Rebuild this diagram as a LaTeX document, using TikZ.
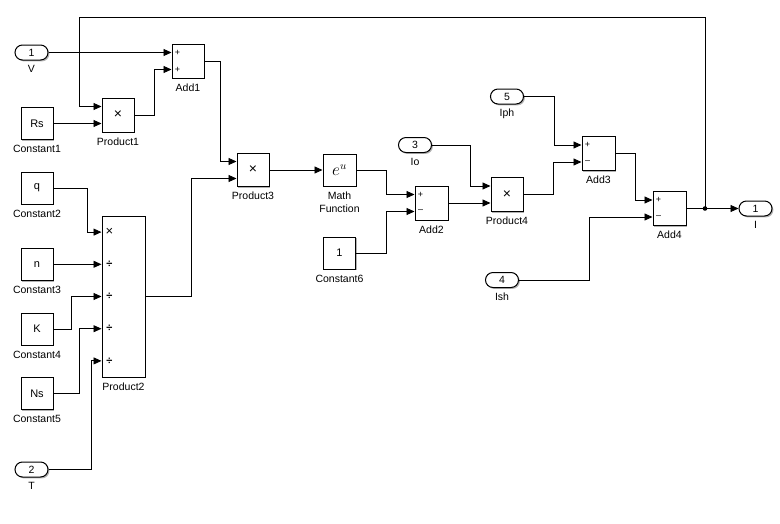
\documentclass[tikz,border=0pt]{standalone}
\usepackage{fontspec}
\setmainfont{Liberation Sans}
\usetikzlibrary{arrows.meta,calc,shadows}
\begin{document}
\begin{tikzpicture}[x=1pt,y=-1pt,
  shad/.style={drop shadow={shadow xshift=1.4pt,shadow yshift=-1.4pt,opacity=0.3,fill=black}},
  blk/.style={draw,line width=1pt,fill=white,minimum width=32pt,minimum height=34pt,inner sep=0pt,font=\fontsize{11}{12}\selectfont,shad},
  cst/.style={blk,minimum height=32pt},
  port/.style={draw,line width=1pt,fill=white,rounded corners=7.5pt,minimum width=33pt,minimum height=15pt,inner sep=0pt,font=\fontsize{10.5}{12}\selectfont,shad},
  lbl/.style={font=\fontsize{10.5}{12}\selectfont,inner sep=0pt,anchor=base},
  sgn/.style={font=\fontsize{9}{10}\selectfont,inner sep=0pt},
  mul/.style={font=\fontsize{14}{14}\selectfont},
  arr/.style={-{Triangle[length=8pt,width=7pt]},line width=0.9pt},
  ln/.style={line width=0.9pt}
]
\useasboundingbox (0,0) rectangle (780,523);

% ---------- blocks ----------
\node[port] (V) at (31.5,52.5) {1};
\node[lbl] (Vl) at ($(V.south)+(0,12)$) {V};
\node[port] (T) at (31.5,469.5) {2};
\node[lbl] (Tl) at ($(T.south)+(0,12)$) {T};
\node[port] (Io) at (415,145) {3};
\node[lbl] (Iol) at ($(Io.south)+(0,12)$) {Io};
\node[port] (Iph) at (507,96.5) {5};
\node[lbl] (Iphl) at ($(Iph.south)+(0,12)$) {Iph};
\node[port] (Ish) at (502,280) {4};
\node[lbl] (Ishl) at ($(Ish.south)+(0,12)$) {Ish};
\node[port] (Out) at (755.5,208.5) {1};
\node[lbl] (Outl) at ($(Out.south)+(0,12)$) {I};

\node[cst] (Rs) at (37,123.5) {Rs};
\node[lbl] (C1l) at ($(Rs.south)+(0,12.5)$) {Constant1};
\node[cst] (q) at (37,188) {q};
\node[lbl] (C2l) at ($(q.south)+(0,12.5)$) {Constant2};
\node[cst] (n) at (37,264.3) {n};
\node[lbl] (C3l) at ($(n.south)+(0,12.5)$) {Constant3};
\node[cst] (K) at (37,329) {K};
\node[lbl] (C4l) at ($(K.south)+(0,12.5)$) {Constant4};
\node[cst] (Ns) at (37,393.5) {Ns};
\node[lbl] (C5l) at ($(Ns.south)+(0,12.5)$) {Constant5};
\node[cst] (C6) at (339.5,253) {1};
\node[lbl] (C6l) at ($(C6.south)+(0,12.5)$) {Constant6};

\node[blk] (Add1) at (188,61) {};
\node[lbl] (A1l) at ($(Add1.south)+(0,12.5)$) {Add1};
\node[blk,mul] (P1) at (118,115) {×};
\node[lbl] (P1l) at ($(P1.south)+(0,12.5)$) {Product1};
\node[blk,minimum height=161pt,minimum width=43pt] (P2) at (123.5,296.5) {};
\node[lbl] (P2l) at ($(P2.south)+(0,12.5)$) {Product2};
\node[blk,mul,minimum height=33pt] (P3) at (253,170) {×};
\node[lbl] (P3l) at ($(P3.south)+(0,12.5)$) {Product3};
\node[cst,minimum width=33pt,font=\fontsize{16}{18}\selectfont] (MF) at (339.5,170) {$e^{u}$};
\node[lbl] (MFl1) at ($(MF.south)+(0,13)$) {Math};
\node[lbl] (MFl2) at ($(MF.south)+(0,26)$) {Function};
\node[blk,minimum width=33pt] (Add2) at (431.5,203) {};
\node[lbl] (A2l) at ($(Add2.south)+(0,12.5)$) {Add2};
\node[blk,mul] (P4) at (507,194.5) {×};
\node[lbl] (P4l) at ($(P4.south)+(0,12.5)$) {Product4};
\node[blk,minimum width=33pt] (Add3) at (598.5,153.5) {};
\node[lbl] (A3l) at ($(Add3.south)+(0,12.5)$) {Add3};
\node[blk,minimum width=33pt] (Add4) at (669.5,208.5) {};
\node[lbl] (A4l) at ($(Add4.south)+(0,12.5)$) {Add4};

% ---------- port coordinates ----------
\coordinate (a1i1) at ($(Add1.west)+(0,-8.5)$);
\coordinate (a1i2) at ($(Add1.west)+(0,8.5)$);
\coordinate (p1i1) at ($(P1.west)+(0,-8.5)$);
\coordinate (p1i2) at ($(P1.west)+(0,8.5)$);
\coordinate (p3i1) at ($(P3.west)+(0,-8.5)$);
\coordinate (p3i2) at ($(P3.west)+(0,8.5)$);
\coordinate (a2i1) at ($(Add2.west)+(0,-8.5)$);
\coordinate (a2i2) at ($(Add2.west)+(0,8.5)$);
\coordinate (p4i1) at ($(P4.west)+(0,-8.5)$);
\coordinate (p4i2) at ($(P4.west)+(0,8.5)$);
\coordinate (a3i1) at ($(Add3.west)+(0,-8.5)$);
\coordinate (a3i2) at ($(Add3.west)+(0,8.5)$);
\coordinate (a4i1) at ($(Add4.west)+(0,-8.5)$);
\coordinate (a4i2) at ($(Add4.west)+(0,8.5)$);
\coordinate (p2i1) at ($(P2.west)+(0,-64.4)$);
\coordinate (p2i2) at ($(P2.west)+(0,-32.2)$);
\coordinate (p2i3) at (P2.west);
\coordinate (p2i4) at ($(P2.west)+(0,32.2)$);
\coordinate (p2i5) at ($(P2.west)+(0,64.4)$);
\coordinate (J) at (705,208.5);
\coordinate (fb) at (79,17);

% ---------- port signs ----------
\foreach \c/\s in {a1i1/+,a1i2/+,a2i1/+,a3i1/+,a4i1/+}
  \node[sgn] at ($(\c)+(6,0)$) {\s};
\foreach \c in {a2i2,a3i2,a4i2}
  \node[sgn] at ($(\c)+(6,0)$) {–};
\node[sgn,font=\fontsize{13}{13}\selectfont] at ($(p2i1)+(8,0)$) {×};
\foreach \c in {p2i2,p2i3,p2i4,p2i5}
  \node[sgn,font=\bfseries\fontsize{11}{11}\selectfont] at ($(\c)+(8,0)$) {÷};

% ---------- connectors ----------
\draw[arr] (V.east) -- (a1i1);
\draw[arr] (P1.east) -- ++(20,0) |- (a1i2);
\draw[arr] (Rs.east) -- (p1i2);
\draw[ln] (Add4.east) -- (J);
\draw[arr] (J) -- (Out.west);
\fill (J) circle (2.3pt);
\draw[arr] (J) |- (fb) |- (p1i1);
\draw[arr] (Add1.east) -- ++(16,0) |- (p3i1);
\draw[arr] (P2.east) -- ++(46,0) |- (p3i2);
\draw[arr] (P3.east) -- (MF.west);
\draw[arr] (MF.east) -- ++(30,0) |- (a2i1);
\draw[arr] (C6.east) -- ++(30,0) |- (a2i2);
\draw[arr] (Io.east) -- ++(38,0) |- (p4i1);
\draw[arr] (Add2.east) -- (p4i2);
\draw[arr] (Iph.east) -- ++(30,0) |- (a3i1);
\draw[arr] (P4.east) -- ++(30,0) |- (a3i2);
\draw[arr] (Add3.east) -- ++(20,0) |- (a4i1);
\draw[arr] (Ish.east) -- ++(70,0) |- (a4i2);
\draw[arr] (q.east) -- ++(34,0) |- (p2i1);
\draw[arr] (n.east) -- (p2i2);
\draw[arr] (K.east) -- ++(18,0) |- (p2i3);
\draw[arr] (Ns.east) -- ++(26,0) |- (p2i4);
\draw[arr] (T.east) -- ++(43,0) |- (p2i5);
\end{tikzpicture}
\end{document}
